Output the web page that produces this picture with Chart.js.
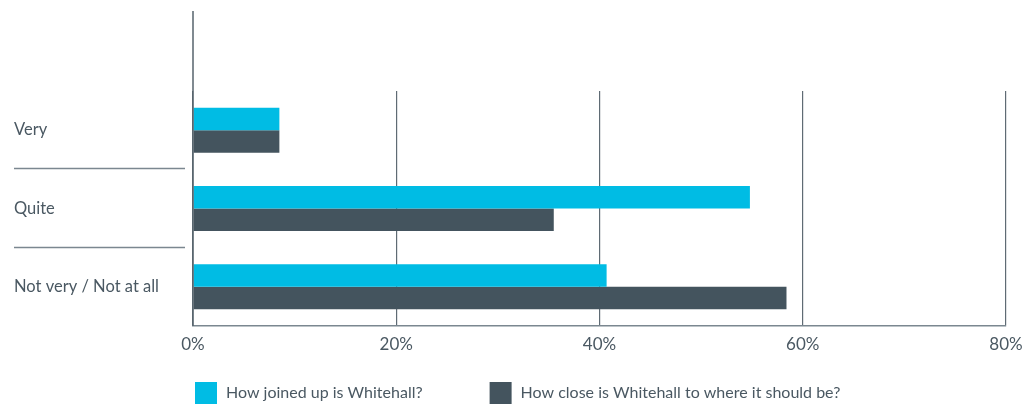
<!DOCTYPE html>
<html>
<head>
<meta charset="utf-8">
<script src="https://cdn.jsdelivr.net/npm/chart.js@4.4.0/dist/chart.umd.min.js"></script>
<style>
  html, body { margin: 0; padding: 0; background: #fff; }
  #wrap { width: 1035px; height: 404px; position: relative; }
</style>
</head>
<body>
<div id="wrap"><canvas id="chart"></canvas></div>
<script>
  const categories = ["Very", "Quite", "Not very / Not at all"];
  const joinedUp = [8.5, 54.8, 40.7];
  const closeness = [8.5, 35.5, 58.4];
  const seriesNames = ["How joined up is Whitehall?", "How close is Whitehall to where it should be?"];
  const xTicks = [0, 20, 40, 60, 80];

  const textColor = "#4a5862";
  const font = "Lato, 'Noto Sans', sans-serif";

  // axis line that runs above the plot, separators between labels, legend
  const extras = {
    id: "extras",
    afterDraw(chart) {
      const ctx = chart.ctx;
      const area = chart.chartArea;
      const y = chart.scales.y;
      ctx.save();
      ctx.strokeStyle = "#56636c";
      ctx.lineWidth = 1.5;
      ctx.beginPath();
      ctx.moveTo(area.left, 11);
      ctx.lineTo(area.left, area.bottom);
      ctx.stroke();

      ctx.strokeStyle = "#7b8790";
      ctx.lineWidth = 1.5;
      for (let i = 0; i < categories.length - 1; i++) {
        const yy = Math.round((y.getPixelForValue(i) + y.getPixelForValue(i + 1)) / 2) - 0.5;
        ctx.beginPath();
        ctx.moveTo(14, yy);
        ctx.lineTo(185, yy);
        ctx.stroke();
      }

      // legend
      ctx.font = "16px " + font;
      ctx.textBaseline = "middle";
      ctx.textAlign = "left";
      const box = 22, gap = 9, spacing = 67;
      const items = chart.data.datasets.map(d => ({
        label: d.label, color: d.backgroundColor, w: ctx.measureText(d.label).width
      }));
      let total = 0;
      items.forEach((it, i) => { total += box + gap + it.w + (i ? spacing : 0); });
      let x = Math.round(chart.width / 2 - total / 2);
      items.forEach(it => {
        ctx.fillStyle = it.color;
        ctx.fillRect(x, 382, box, box);
        ctx.fillStyle = textColor;
        ctx.fillText(it.label, x + box + gap, 393);
        x += box + gap + it.w + spacing;
      });
      ctx.restore();
    }
  };

  new Chart(document.getElementById("chart"), {
    type: "bar",
    data: {
      labels: categories,
      datasets: [
        { label: seriesNames[0], data: joinedUp, backgroundColor: "#00bce4" },
        { label: seriesNames[1], data: closeness, backgroundColor: "#44545e" }
      ]
    },
    options: {
      indexAxis: "y",
      responsive: true,
      maintainAspectRatio: false,
      animation: false,
      layout: { padding: { top: 91, left: 14, right: 29, bottom: 0 } },
      datasets: { bar: { categoryPercentage: 0.575, barPercentage: 1 } },
      plugins: {
        legend: { display: false },
        tooltip: { enabled: true }
      },
      scales: {
        x: {
          min: 0,
          max: 80,
          afterBuildTicks(s) { s.ticks = xTicks.map(v => ({ value: v })); },
          afterFit(s) { s.height = 78; },
          grid: { color: "#5f6b74", lineWidth: 1.2, drawTicks: false },
          border: { display: true, color: "#7b8790", width: 1.5 },
          ticks: {
            color: textColor,
            padding: 8,
            font: { family: font, size: 17 },
            callback: v => v + "%"
          }
        },
        y: {
          afterFit(s) { s.width = 179; },
          grid: { display: false, drawTicks: false },
          border: { display: false },
          ticks: {
            crossAlign: "far",
            color: textColor,
            font: { family: font, size: 16.5 }
          }
        }
      }
    },
    plugins: [extras]
  });
</script>
</body>
</html>
